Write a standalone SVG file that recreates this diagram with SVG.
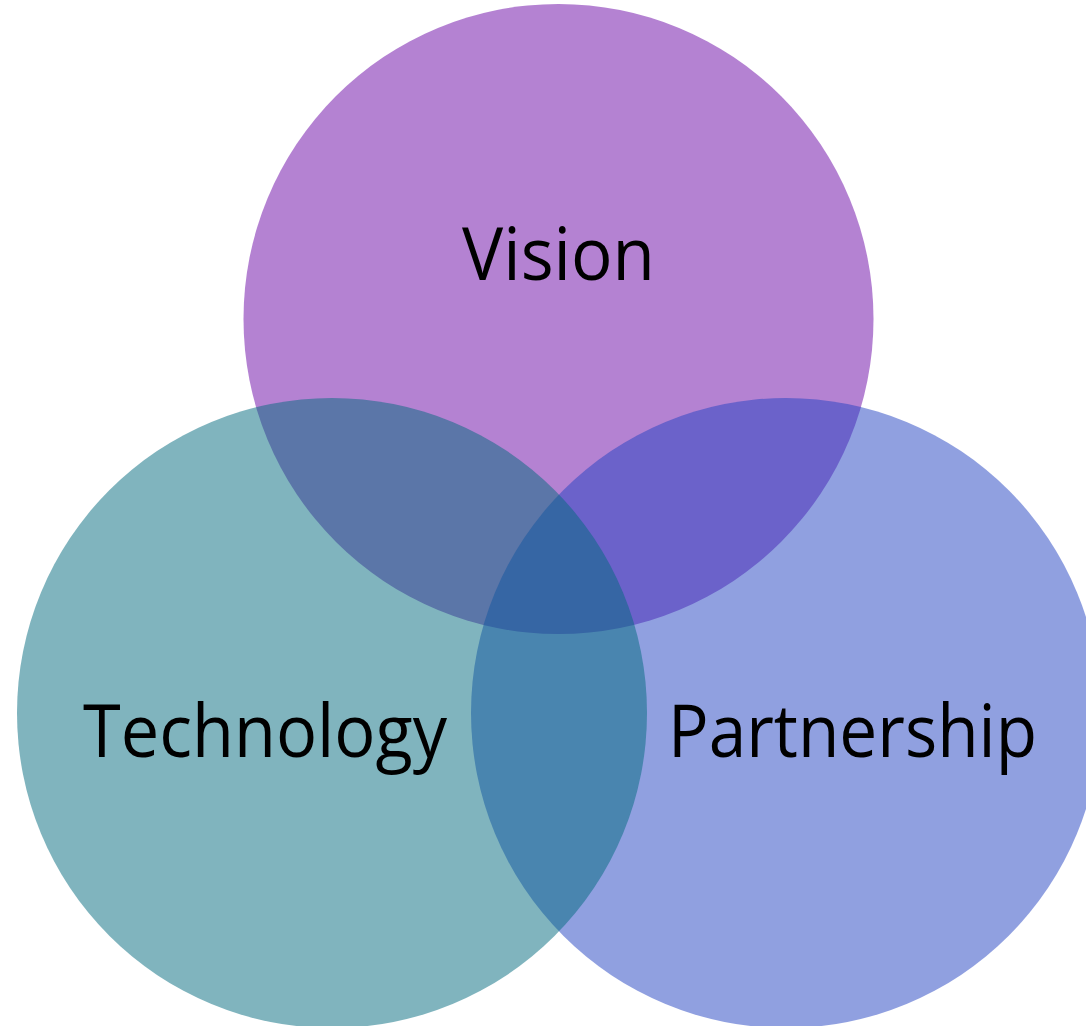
<svg xmlns="http://www.w3.org/2000/svg" width="1086" height="1026" viewBox="0 0 1086 1026">
<style>
.c{fill-opacity:0.5}
.t{font-family:"Open Sans","Noto Sans",sans-serif;font-size:73px;fill:#000;text-anchor:middle}
</style>
<rect width="1086" height="1026" fill="#fff"/>
<g id="vision"><circle class="c" cx="558.5" cy="319" r="315" fill="#6905A5"/></g>
<g id="partnership"><circle class="c" cx="786" cy="713" r="315" fill="#2141C1"/></g>
<g id="technology"><circle class="c" cx="332" cy="713" r="315" fill="#01697D"/></g>
<g id="labels">
<text class="t" x="558.5" y="280" textLength="193" lengthAdjust="spacingAndGlyphs">Vision</text>
<text class="t" x="265" y="757" textLength="364" lengthAdjust="spacingAndGlyphs">Technology</text>
<text class="t" x="852.5" y="757" textLength="369" lengthAdjust="spacingAndGlyphs">Partnership</text>
</g>
<g id="connectors"></g>
</svg>
